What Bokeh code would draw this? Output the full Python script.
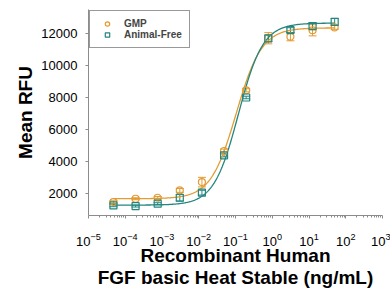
import numpy as np
from bokeh.plotting import figure
from bokeh.models import (ColumnDataSource, Whisker, TeeHead, FixedTicker,
                          LogTickFormatter, Legend, LegendItem, Range1d)
from bokeh.embed import file_html
from bokeh.resources import INLINE

# ---- data ----
conc = [4.77e-5, 1.91e-4, 7.63e-4, 3.05e-3, 0.0122, 0.0488, 0.195, 0.781, 3.125, 12.5, 50.0]
gmp_vals = [1440, 1650, 1710, 2170, 2690, 4640, 8440, 11700, 11800, 12200, 12380]
gmp_err = [80, 60, 80, 120, 300, 120, 100, 350, 260, 350, 120]
af_vals = [1230, 1190, 1340, 1710, 2030, 4370, 7990, 11690, 12210, 12460, 12730]
af_err = [80, 60, 60, 200, 150, 100, 80, 200, 150, 220, 210]

# 4-parameter logistic fit parameters (bottom, top, EC50, hill)
gmp_fit = (1650, 12350, 0.105, 1.25)
af_fit = (1250, 12650, 0.12, 1.3)

x_ticks = [1e-5, 1e-4, 1e-3, 1e-2, 1e-1, 1e0, 1e1, 1e2, 1e3]
y_ticks = [2000, 4000, 6000, 8000, 10000, 12000]
x_title = "Recombinant Human\nFGF basic Heat Stable (ng/mL)"
y_title = "Mean RFU"

ORANGE = "#E39B32"
TEAL = "#24867F"
FONT = "Liberation Sans"


def fourpl(x, b, t, c, h):
    x = np.asarray(x, dtype=float)
    return b + (t - b) / (1.0 + (c / x) ** h)


p = figure(width=390, height=290, x_axis_type="log",
           x_range=Range1d(1e-5, 1e3), y_range=Range1d(600, 13500),
           output_backend="svg", toolbar_location=None,
           min_border_left=88, min_border_right=8, min_border_top=9, min_border_bottom=75)
p.outline_line_color = None
p.grid.visible = False
p.background_fill_color = "white"

xs = np.logspace(np.log10(conc[0]), np.log10(conc[-1]), 300)
p.line(xs, fourpl(xs, *gmp_fit), line_color=ORANGE, line_width=1.3)
p.line(xs, fourpl(xs, *af_fit), line_color=TEAL, line_width=1.3)

src_g = ColumnDataSource(dict(x=conc, y=gmp_vals,
                              lo=[v - e for v, e in zip(gmp_vals, gmp_err)],
                              hi=[v + e for v, e in zip(gmp_vals, gmp_err)]))
src_a = ColumnDataSource(dict(x=conc, y=af_vals,
                              lo=[v - e for v, e in zip(af_vals, af_err)],
                              hi=[v + e for v, e in zip(af_vals, af_err)]))

for src, col in ((src_g, ORANGE), (src_a, TEAL)):
    w = Whisker(source=src, base="x", lower="lo", upper="hi", line_color=col, line_width=1,
                upper_head=TeeHead(size=8, line_color=col, line_width=1),
                lower_head=TeeHead(size=8, line_color=col, line_width=1))
    p.add_layout(w)

r_g = p.scatter("x", "y", source=src_g, marker="circle", size=7, fill_color=None,
                line_color=ORANGE, line_width=1.2)
r_a = p.scatter("x", "y", source=src_a, marker="square", size=7, fill_color=None,
                line_color=TEAL, line_width=1.2)

# axes
p.xaxis.ticker = FixedTicker(ticks=x_ticks,
                             minor_ticks=[m * 10.0 ** k for k in range(-5, 3) for m in range(2, 10)])
p.xaxis.formatter = LogTickFormatter()
p.yaxis.ticker = FixedTicker(ticks=y_ticks)

for ax in (p.xaxis[0], p.yaxis[0]):
    ax.axis_line_color = "#8c8c8c"
    ax.major_tick_line_color = "#8c8c8c"
    ax.minor_tick_line_color = "#8c8c8c"
    ax.major_tick_in = 0
    ax.major_tick_out = 3
    ax.minor_tick_in = 0
    ax.minor_tick_out = 2
    ax.major_label_text_font = FONT
    ax.major_label_text_color = "black"
    ax.axis_label_text_font = FONT
    ax.axis_label_text_font_style = "bold"
    ax.axis_label_text_font_size = "19px"
    ax.axis_label_text_color = "black"

p.yaxis.minor_tick_line_color = None
p.yaxis.major_label_text_font_size = "13px"
p.xaxis.major_label_text_font_size = "13px"
p.yaxis.major_label_standoff = 8
p.xaxis.major_label_standoff = 14
p.yaxis.axis_label = y_title
p.yaxis.axis_label_standoff = 2
p.xaxis.axis_label = x_title
p.xaxis.axis_label_standoff = -4
p.xaxis.axis_label_text_line_height = 1.05

legend = Legend(items=[LegendItem(label="GMP", renderers=[r_g]),
                       LegendItem(label="Animal-Free", renderers=[r_a])],
                location="top_left", margin=1, padding=7, spacing=0,
                glyph_width=20, glyph_height=11, label_height=11, label_standoff=7,
                label_text_font=FONT, label_text_font_style="bold",
                label_text_font_size="10px",
                border_line_color="#333333", border_line_width=1,
                background_fill_alpha=1)
p.add_layout(legend)

open("out.html", "w").write(file_html(p, INLINE))
